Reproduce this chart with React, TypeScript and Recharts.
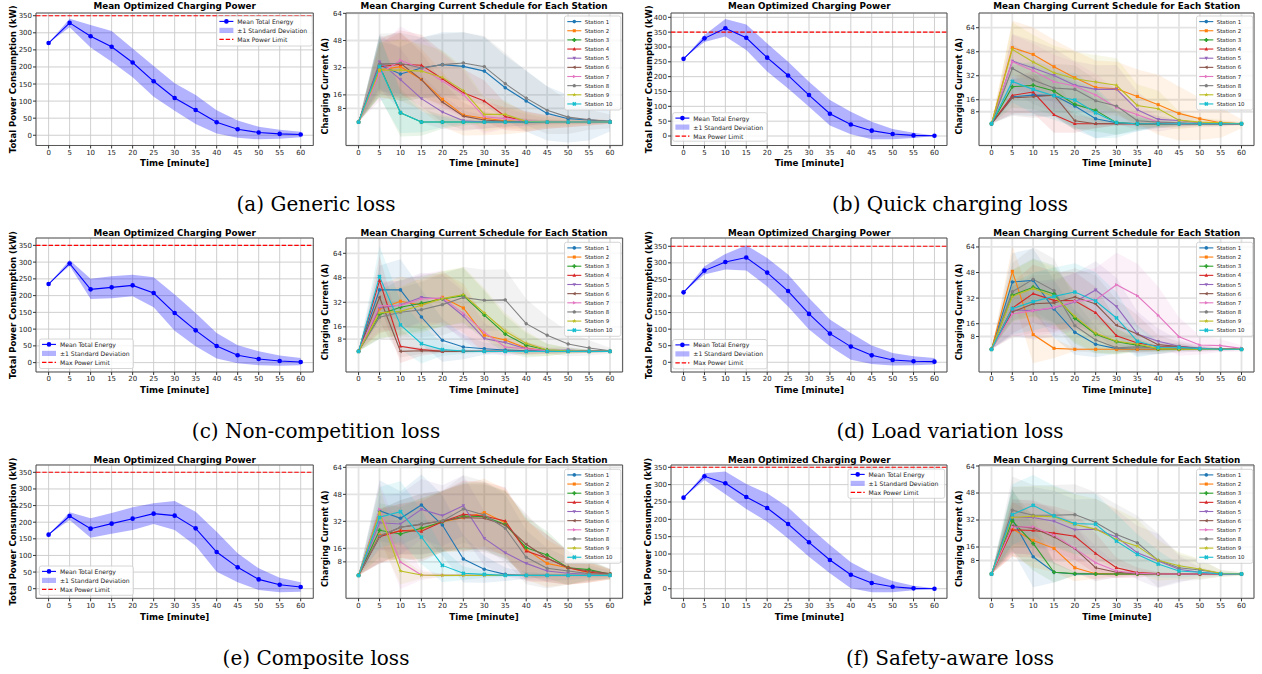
import React from "react";
import { ComposedChart, Line, Area, XAxis, YAxis, CartesianGrid, ReferenceLine, ReferenceArea } from "recharts";

// ---------------- data ----------------
const TIME = [0, 5, 10, 15, 20, 25, 30, 35, 40, 45, 50, 55, 60];
const X_TICKS = [0, 5, 10, 15, 20, 25, 30, 35, 40, 45, 50, 55, 60];
const POWER_TICKS = [0, 50, 100, 150, 200, 250, 300, 350];
const POWER_TICKS_B = [0, 50, 100, 150, 200, 250, 300, 350, 400];
const CURRENT_TICKS = [8, 16, 32, 48, 64];
const POWER_LIMIT = 350;

const STATION_NAMES = ["Station 1", "Station 2", "Station 3", "Station 4", "Station 5", "Station 6", "Station 7", "Station 8", "Station 9", "Station 10"];
const STATION_COLORS = ["#1f77b4", "#ff7f0e", "#2ca02c", "#d62728", "#9467bd", "#8c564b", "#e377c2", "#7f7f7f", "#bcbd22", "#17becf"];
const STATION_MARKERS = ["o", "s", "P", "^", "v", "<", ">", "p", "*", "X"];
const POWER_LEGEND_LABELS = ["Mean Total Energy", "±1 Standard Deviation", "Max Power Limit"];
const CAPTIONS = ["(a) Generic loss", "(b) Quick charging loss", "(c) Non-competition loss", "(d) Load variation loss", "(e) Composite loss", "(f) Safety-aware loss"];
const POWER_TITLE = "Mean Optimized Charging Power";
const CURRENT_TITLE = "Mean Charging Current Schedule for Each Station";
const X_LABEL = "Time [minute]";
const POWER_Y_LABEL = "Total Power Consumption (kW)";
const CURRENT_Y_LABEL = "Charging Current (A)";

// (a) Generic loss
const A_POWER_MEAN = [270, 329, 290, 259, 213, 158, 109, 74, 38, 17.5, 8, 4, 2];
const A_POWER_UPPER = [270, 341, 323, 305, 254, 203, 152, 118, 73, 43, 25, 16, 10];
const A_POWER_LOWER = [270, 316, 257, 215, 170, 113, 72, 33, 5, -7, -12, -10, -6];
const A_STATION_MEAN = [
  [0, 33.6, 28.3, 31.8, 33.8, 32.8, 30, 20.2, 12.4, 5.1, 2, 1.2, 0.4],
  [0, 30.6, 32.6, 25.1, 13.4, 4.1, 2.2, 0.8, 0, 0, 0, 0, 0],
  [0, 33, 5.5, 0, 0, 0, 0, 0, 0, 0, 0, 0, 0],
  [0, 32.6, 34, 33.4, 25.5, 17.3, 12.4, 3.3, 0.4, 0, 0, 0, 0],
  [0, 35.4, 25, 13.8, 5.9, 0.8, 0, 0, 0, 0, 0, 0, 0],
  [0, 34, 34.6, 25, 11.8, 3.5, 1.2, 0.4, 0, 0, 0, 0, 0],
  [0, 28.3, 36.3, 31.6, 24.2, 16.3, 3.1, 2, 0.8, 0, 0, 0, 0],
  [0, 34, 34.6, 31.8, 33.8, 34.8, 32.6, 22.6, 14.1, 6.9, 2.9, 1.4, 0.4],
  [0, 30.6, 30.6, 30, 26.3, 18.5, 4.5, 4.5, 0.4, 0, 0, 0, 0],
  [0, 32.6, 5.5, 0, 0, 0, 0, 0, 0, 0, 0, 0, 0],
];
const A_STATION_STD = [
  [0, 14, 16, 18, 19, 20, 20, 19, 18, 16, 14, 12, 6],
  [0, 16, 20, 18, 16, 12, 10, 8, 6, 4, 3, 2, 1],
  [0, 18, 14, 8, 4, 2, 1, 1, 1, 1, 0.5, 0.5, 0.5],
  [0, 16, 20, 18, 16, 14, 12, 8, 6, 4, 3, 2, 1],
  [0, 16, 18, 14, 10, 6, 4, 3, 2, 1, 1, 1, 0.5],
  [0, 16, 18, 16, 12, 8, 5, 3, 2, 1, 1, 1, 0.5],
  [0, 16, 20, 18, 16, 14, 10, 6, 4, 2, 1, 1, 0.5],
  [0, 18, 18, 18, 18, 18, 18, 18, 16, 14, 10, 6, 4],
  [0, 16, 18, 16, 16, 14, 10, 8, 5, 3, 2, 1, 0.5],
  [0, 18, 12, 6, 3, 1, 1, 1, 1, 0.5, 0.5, 0.5, 0.5],
];

// (b) Quick charging loss
const B_POWER_MEAN = [260, 329, 363, 331, 264, 204, 138, 75, 39, 18, 7, 2, 1];
const B_POWER_UPPER = [260, 340, 394, 376, 312, 250, 183, 121, 82, 48, 24, 11, 2];
const B_POWER_LOWER = [260, 317, 335, 290, 217, 160, 99, 35, 6, -11, -11, -7, 0];
const B_STATION_MEAN = [
  [0, 18, 19.1, 18.9, 11.8, 3.3, 0.7, 0, 0, 0, 0, 0, 0],
  [0, 50.7, 46.2, 38, 30.7, 24.2, 23.3, 18.2, 12.7, 6.9, 3.3, 0.7, 0],
  [0, 24.7, 25.6, 21.8, 12.9, 8.9, 0.7, 0, 0, 0, 0, 0, 0],
  [0, 18.9, 21.1, 6, 0, 0, 0, 0, 0, 0, 0, 0, 0],
  [0, 41.8, 37.1, 32.2, 25.6, 22.9, 23.1, 9.3, 2.9, 2.2, 0.7, 0, 0],
  [0, 17.3, 18, 19.1, 2, 0, 0, 0, 0, 0, 0, 0, 0],
  [0, 41.3, 35.3, 28, 25.1, 19.1, 10.9, 6, 1.1, 0, 0, 0, 0],
  [0, 36.9, 29.1, 23.8, 22.9, 15.3, 11.8, 2, 1.1, 0.7, 0, 0, 0],
  [0, 49.6, 41.1, 34, 30, 27.8, 25.6, 12.2, 10, 2.4, 1.1, 0.7, 0],
  [0, 28.2, 22.9, 18.7, 15.8, 7.3, 0.7, 0, 0, 0, 0, 0, 0],
];
const B_STATION_STD = [
  [0, 12, 14, 14, 16, 13, 8, 5, 3, 2, 1, 1, 0.5],
  [0, 18, 18, 18, 18, 18, 18, 18, 20, 18, 14, 10, 3],
  [0, 14, 16, 16, 16, 14, 8, 4, 2, 1, 1, 1, 0.5],
  [0, 12, 14, 12, 6, 3, 1, 1, 0.5, 0.5, 0.5, 0.5, 0.5],
  [0, 18, 18, 18, 16, 16, 16, 12, 8, 5, 3, 2, 1],
  [0, 12, 14, 14, 6, 3, 1, 1, 0.5, 0.5, 0.5, 0.5, 0.5],
  [0, 18, 18, 18, 16, 14, 12, 8, 4, 2, 1, 1, 0.5],
  [0, 16, 16, 16, 16, 14, 12, 6, 4, 2, 1, 1, 0.5],
  [0, 18, 18, 18, 18, 18, 18, 14, 12, 6, 3, 2, 1],
  [0, 14, 16, 16, 18, 17, 10, 5, 2, 1, 1, 1, 0.5],
];

// (c) Non-competition loss
const C_POWER_MEAN = [234.6, 296, 218.7, 224.7, 230.6, 207.8, 148, 96.4, 49.7, 21.9, 10.9, 5, 2];
const C_POWER_UPPER = [234.6, 306, 250, 257.5, 262, 254.5, 203, 148, 88.5, 51.7, 33.8, 20.9, 14];
const C_POWER_LOWER = [234.6, 289, 190, 192, 198, 165, 95.4, 48.7, 12, -2, -8, -9, -8];
const C_STATION_MEAN = [
  [0, 40.1, 40.1, 22.4, 7.2, 2.8, 1.7, 0.9, 0.4, 0, 0, 0, 0],
  [0, 27.7, 32.7, 30.3, 35.3, 28.3, 10.5, 7.4, 2.2, 0.4, 0, 0, 0],
  [0, 24, 28.8, 31.4, 34.2, 36.4, 23.7, 11.3, 3.9, 0.9, 0.4, 0, 0],
  [0, 46.2, 3.3, 1.1, 0, 0, 0, 0, 0, 0, 0, 0, 0],
  [0, 28.3, 30.3, 35.3, 34.2, 23.1, 8.3, 5.7, 1.7, 0.4, 0.9, 0, 0],
  [0, 35.3, 0, 0.4, 0, 0, 0, 0, 0, 0, 0, 0, 0],
  [0, 29.8, 30, 34.2, 34.9, 24.8, 12.4, 2.8, 1.7, 0.4, 0, 0, 0],
  [0, 22.2, 25.5, 27.2, 30.5, 35.1, 33.3, 33.6, 18.1, 10.5, 4.8, 2.2, 0.4],
  [0, 25.1, 26.1, 30.1, 34.4, 37, 25.1, 13.1, 5.2, 0.9, 0.4, 0, 0],
  [0, 48.8, 17.2, 5, 1.1, 0.2, 0, 0, 0, 0, 0, 0, 0],
];
const C_STATION_STD = [
  [0, 16, 20, 18, 14, 8, 4, 3, 2, 1, 1, 1, 0.5],
  [0, 16, 16, 16, 16, 16, 12, 8, 4, 2, 1, 1, 0.5],
  [0, 16, 18, 18, 18, 18, 16, 12, 8, 4, 2, 1, 0.5],
  [0, 16, 11, 4, 1, 1, 0.5, 0.5, 0.5, 0.5, 0.5, 0.5, 0.5],
  [0, 16, 16, 16, 16, 16, 10, 6, 4, 2, 2, 1, 0.5],
  [0, 16, 4, 2, 1, 0.5, 0.5, 0.5, 0.5, 0.5, 0.5, 0.5, 0.5],
  [0, 16, 16, 16, 18, 16, 12, 6, 4, 2, 1, 1, 0.5],
  [0, 14, 16, 18, 20, 20, 20, 20, 16, 12, 8, 5, 2],
  [0, 16, 16, 18, 18, 18, 16, 12, 8, 4, 2, 1, 0.5],
  [0, 20, 16, 13, 4, 2, 1, 0.5, 0.5, 0.5, 0.5, 0.5, 0.5],
];

// (d) Load variation loss
const D_POWER_MEAN = [211, 276.6, 302.8, 316, 270.6, 215, 146, 86.5, 47.3, 21, 7, 3, 2];
const D_POWER_UPPER = [211, 290, 327, 353, 315, 264.6, 194, 129, 88.5, 51, 28, 18, 13];
const D_POWER_LOWER = [211, 264.6, 279.7, 276.6, 229, 168, 98.6, 48.3, 8, -5, -10, -9, -7];
const D_STATION_MEAN = [
  [0, 42.1, 43.1, 25.2, 10.6, 3.1, 0.4, 0, 0, 0, 0, 0, 0],
  [0, 48.75, 9.2, 0.6, 0, 0, 0, 0, 0, 0, 0, 0, 0],
  [0, 33.75, 38.75, 34.6, 19.4, 9.4, 4.8, 2.5, 0.4, 0, 0, 0, 0],
  [0, 25.8, 34.8, 30.6, 30.4, 22.9, 8.5, 4, 1.9, 1.7, 0.4, 0, 0],
  [0, 24.6, 24.2, 25.8, 29.6, 37.1, 26.7, 9.6, 5, 1.9, 0.8, 0, 0],
  [0, 23.3, 28.5, 29, 32.7, 28.3, 15, 9.6, 2.9, 1.7, 0.4, 0, 0],
  [0, 22.1, 24.2, 26.2, 30, 30.8, 40.4, 33.5, 21.25, 7.9, 2.7, 2.3, 0.6],
  [0, 36, 43.75, 36.7, 14.8, 5.8, 1, 1.5, 0.8, 0.4, 0, 0, 0],
  [0, 33.1, 38.1, 33.1, 20.6, 10, 5, 3.3, 0.4, 0, 0, 0, 0],
  [0, 25.4, 29.8, 33.1, 35.8, 30.2, 19.6, 5, 1.25, 1.25, 0.4, 0, 0],
];
const D_STATION_STD = [
  [0, 18, 20, 18, 14, 8, 3, 1, 1, 0.5, 0.5, 0.5, 0.5],
  [0, 16, 18, 6, 1, 0.5, 0.5, 0.5, 0.5, 0.5, 0.5, 0.5, 0.5],
  [0, 16, 18, 18, 16, 12, 8, 4, 2, 1, 0.5, 0.5, 0.5],
  [0, 16, 18, 18, 18, 16, 10, 6, 3, 2, 1, 0.5, 0.5],
  [0, 16, 18, 18, 18, 18, 18, 14, 8, 4, 2, 1, 0.5],
  [0, 16, 18, 18, 18, 18, 16, 12, 6, 3, 2, 1, 0.5],
  [0, 14, 16, 16, 18, 20, 20, 20, 18, 12, 6, 4, 2],
  [0, 18, 20, 20, 16, 8, 3, 2, 1, 1, 0.5, 0.5, 0.5],
  [0, 16, 18, 18, 16, 12, 8, 4, 2, 1, 0.5, 0.5, 0.5],
  [0, 16, 18, 18, 18, 18, 16, 10, 4, 2, 1, 0.5, 0.5],
];

// (e) Composite loss
const E_POWER_MEAN = [162.5, 218.7, 180.5, 195.6, 210.6, 225.7, 219.7, 181.5, 110.3, 64.2, 28, 12, 5];
const E_POWER_UPPER = [162.5, 229.7, 211.6, 227.7, 244.7, 256.8, 263.8, 231.7, 171.5, 106.3, 61.2, 33.1, 19];
const E_POWER_LOWER = [162.5, 206.6, 153.5, 165.5, 176.5, 194.6, 176.5, 129.4, 51.2, 19, -4, -11, -9];
const E_STATION_MEAN = [
  [0, 38.3, 33.8, 41.7, 29.8, 9.7, 3.6, 0.6, 0, 0, 0, 0, 0],
  [0, 23.9, 26.3, 27.5, 31.8, 34.2, 37.2, 31.2, 15.4, 7.1, 4.5, 1.6, 0.6],
  [0, 26.7, 24.5, 27.9, 31.8, 35.2, 34.8, 30.2, 16.4, 12.1, 4.5, 3.4, 0.6],
  [0, 22.9, 26.5, 26.1, 31.8, 36.2, 35.2, 32.2, 14.4, 10.1, 4.5, 1.8, 0.6],
  [0, 31.2, 30.4, 39.1, 35.4, 41.3, 21.9, 13.4, 7.1, 2.6, 1.2, 0.6, 0],
  [0, 23.1, 28.5, 30.2, 32.4, 34.2, 33.8, 29.8, 18.4, 10.1, 4.5, 2.6, 1],
  [0, 39.1, 7.9, 0.2, 0, 0, 0, 0, 0, 0, 0, 0, 0],
  [0, 23.3, 28.5, 30.6, 32.2, 39.3, 35.8, 27.9, 10.7, 4.2, 2.6, 1, 0.6],
  [0, 37.4, 2.6, 0.2, 0, 0, 0, 0, 0, 0, 0, 0, 0],
  [0, 34.4, 37.7, 22.7, 5.9, 1.2, 0.6, 0, 0, 0, 0, 0, 0],
];
const E_STATION_STD = [
  [0, 18, 16, 18, 18, 14, 8, 4, 2, 1, 0.5, 0.5, 0.5],
  [0, 16, 16, 18, 18, 20, 20, 20, 18, 14, 10, 6, 3],
  [0, 16, 16, 18, 18, 20, 20, 20, 18, 14, 10, 6, 3],
  [0, 16, 16, 18, 18, 20, 20, 20, 18, 14, 10, 6, 3],
  [0, 16, 18, 18, 18, 18, 16, 14, 10, 6, 4, 2, 1],
  [0, 16, 16, 18, 18, 20, 20, 20, 18, 14, 10, 6, 3],
  [0, 16, 16, 3, 1, 0.5, 0.5, 0.5, 0.5, 0.5, 0.5, 0.5, 0.5],
  [0, 16, 16, 18, 18, 20, 20, 20, 16, 12, 8, 5, 2],
  [0, 16, 8, 2, 1, 0.5, 0.5, 0.5, 0.5, 0.5, 0.5, 0.5, 0.5],
  [0, 18, 18, 16, 10, 4, 2, 1, 0.5, 0.5, 0.5, 0.5, 0.5],
];

// (f) Safety-aware loss
const F_POWER_MEAN = [262.5, 324, 303.8, 264.4, 232.7, 186.5, 133.7, 82.7, 40.4, 16.3, 5.8, 1, 0];
const F_POWER_UPPER = [262.5, 332.7, 337.5, 302, 275, 234.6, 178.8, 126, 76, 44.2, 22, 8.7, 1];
const F_POWER_LOWER = [262.5, 313.5, 272, 229.8, 193.3, 145, 92.3, 44.2, 1, -10.6, -10.6, -4.8, 0];
const F_STATION_MEAN = [
  [0, 32.3, 10.2, 1, 0, 0, 0, 0, 0, 0, 0, 0, 0],
  [0, 26.6, 19.9, 15.2, 3.7, 0.2, 0, 0, 0, 0, 0, 0, 0],
  [0, 31.5, 18.1, 1, 0.2, 0, 0, 0, 0, 0, 0, 0, 0],
  [0, 26.2, 25.8, 24.2, 22.4, 12.2, 3.7, 0.8, 0.2, 0, 0, 0, 0],
  [0, 33.7, 33.5, 31.3, 26.2, 26.6, 21.9, 12.6, 7.7, 2.8, 1, 0, 0],
  [0, 28.5, 27.2, 22, 15, 3.7, 1, 0.2, 0, 0, 0, 0, 0],
  [0, 27.8, 28, 23, 15.2, 6.7, 1.8, 0.4, 0, 0, 0, 0, 0],
  [0, 37.8, 34.8, 34.8, 35.2, 30.5, 23.4, 18.5, 8.1, 3.7, 2.4, 0.4, 0],
  [0, 33.5, 34.3, 33.9, 29.3, 26.6, 20.5, 16.5, 8.1, 4.9, 3, 0.4, 0],
  [0, 35.2, 40.7, 34.4, 29.9, 29.5, 19.5, 11.6, 5.9, 1.8, 1, 0, 0],
];
const F_STATION_STD = [
  [0, 18, 18, 6, 1, 0.5, 0.5, 0.5, 0.5, 0.5, 0.5, 0.5, 0.5],
  [0, 16, 16, 14, 8, 3, 1, 0.5, 0.5, 0.5, 0.5, 0.5, 0.5],
  [0, 18, 16, 6, 1, 0.5, 0.5, 0.5, 0.5, 0.5, 0.5, 0.5, 0.5],
  [0, 16, 16, 16, 14, 12, 6, 3, 1, 0.5, 0.5, 0.5, 0.5],
  [0, 18, 18, 18, 18, 18, 16, 16, 16, 8, 3, 1, 0.5],
  [0, 16, 16, 16, 14, 8, 3, 1, 0.5, 0.5, 0.5, 0.5, 0.5],
  [0, 16, 16, 16, 14, 10, 4, 2, 0.5, 0.5, 0.5, 0.5, 0.5],
  [0, 20, 18, 18, 18, 18, 18, 16, 16, 8, 6, 2, 1],
  [0, 18, 18, 18, 18, 18, 18, 16, 12, 8, 6, 2, 1],
  [0, 18, 18, 18, 18, 18, 16, 12, 8, 4, 2, 1, 0.5],
];

// ---------------- layout ----------------
const FONT = "'DejaVu Sans', Verdana, sans-serif";
const ROWS = [
  { y0: 13, y1: 145.5, titleY: 6.2, xLabelY: 163.3, capY: 203.5 },
  { y0: 238, y1: 372, titleY: 233, xLabelY: 390.3, capY: 431 },
  { y0: 465, y1: 598.3, titleY: 459.8, xLabelY: 616.7, capY: 657.5 },
];
const COLS = [
  { px0: 36, px1: 313.3, cx0: 345.7, cx1: 622.3, capX: 316 },
  { px0: 671.3, px1: 947.3, cx0: 979.3, cx1: 1254.3, capX: 950 },
];

type PanelCfg = {
  id: string; row: number; col: number; caption: string;
  pDom: [number, number]; pTicks: number[]; pMean: number[]; pUp: number[]; pLo: number[];
  pLegend: { x: number; y: number; w: number; h: number };
  cDom: [number, number]; cMeans: number[][]; cStds: number[][]; cLegendY: number;
};

const PANELS: PanelCfg[] = [
  { id: "a", row: 0, col: 0, caption: CAPTIONS[0], pDom: [-30, 358], pTicks: POWER_TICKS, pMean: A_POWER_MEAN, pUp: A_POWER_UPPER, pLo: A_POWER_LOWER, pLegend: { x: 216.7, y: 16, w: 95.6, h: 30 }, cDom: [-13.8, 64.2], cMeans: A_STATION_MEAN, cStds: A_STATION_STD, cLegendY: 16 },
  { id: "b", row: 0, col: 1, caption: CAPTIONS[1], pDom: [-32, 414.5], pTicks: POWER_TICKS_B, pMean: B_POWER_MEAN, pUp: B_POWER_UPPER, pLo: B_POWER_LOWER, pLegend: { x: 672.7, y: 112.7, w: 94.3, h: 28.5 }, cDom: [-14.5, 73.8], cMeans: B_STATION_MEAN, cStds: B_STATION_STD, cLegendY: 16 },
  { id: "c", row: 1, col: 0, caption: CAPTIONS[2], pDom: [-28, 372], pTicks: POWER_TICKS, pMean: C_POWER_MEAN, pUp: C_POWER_UPPER, pLo: C_POWER_LOWER, pLegend: { x: 39.3, y: 339, w: 94, h: 29.5 }, cDom: [-13.5, 74], cMeans: C_STATION_MEAN, cStds: C_STATION_STD, cLegendY: 242.3 },
  { id: "d", row: 1, col: 1, caption: CAPTIONS[3], pDom: [-29.3, 375], pTicks: POWER_TICKS, pMean: D_POWER_MEAN, pUp: D_POWER_UPPER, pLo: D_POWER_LOWER, pLegend: { x: 672.7, y: 339.5, w: 94.3, h: 29.3 }, cDom: [-14.2, 69.6], cMeans: D_STATION_MEAN, cStds: D_STATION_STD, cLegendY: 242.3 },
  { id: "e", row: 2, col: 0, caption: CAPTIONS[4], pDom: [-28.9, 372], pTicks: POWER_TICKS, pMean: E_POWER_MEAN, pUp: E_POWER_UPPER, pLo: E_POWER_LOWER, pLegend: { x: 39.3, y: 566, w: 94, h: 29.3 }, cDom: [-13.6, 65.4], cMeans: E_STATION_MEAN, cStds: E_STATION_STD, cLegendY: 469.3 },
  { id: "f", row: 2, col: 1, caption: CAPTIONS[5], pDom: [-27.7, 356.6], pTicks: POWER_TICKS, pMean: F_POWER_MEAN, pUp: F_POWER_UPPER, pLo: F_POWER_LOWER, pLegend: { x: 848, y: 469, w: 96.7, h: 29.3 }, cDom: [-14.4, 64.6], cMeans: F_STATION_MEAN, cStds: F_STATION_STD, cLegendY: 469.3 },
];

const YW = 30;
const XH = 16;
const PT = 2;
const PR = 2;
const X_DOMAIN: [number, number] = [-3, 63];

// ---------------- markers ----------------
function markerEl(shape: string, cx: number, cy: number, s: number, color: string, key?: string) {
  const pts = (arr: number[][]) => arr.map((p) => `${(cx + p[0] * s).toFixed(2)},${(cy + p[1] * s).toFixed(2)}`).join(" ");
  const plus = [[-0.4, -1], [0.4, -1], [0.4, -0.4], [1, -0.4], [1, 0.4], [0.4, 0.4], [0.4, 1], [-0.4, 1], [-0.4, 0.4], [-1, 0.4], [-1, -0.4], [-0.4, -0.4]];
  switch (shape) {
    case "o":
      return <circle key={key} cx={cx} cy={cy} r={s} fill={color} />;
    case "s":
      return <rect key={key} x={cx - 0.85 * s} y={cy - 0.85 * s} width={1.7 * s} height={1.7 * s} fill={color} />;
    case "^":
      return <polygon key={key} points={pts([[0, -1.1], [1, 0.75], [-1, 0.75]])} fill={color} />;
    case "v":
      return <polygon key={key} points={pts([[0, 1.1], [1, -0.75], [-1, -0.75]])} fill={color} />;
    case "<":
      return <polygon key={key} points={pts([[-1.1, 0], [0.75, -1], [0.75, 1]])} fill={color} />;
    case ">":
      return <polygon key={key} points={pts([[1.1, 0], [-0.75, -1], [-0.75, 1]])} fill={color} />;
    case "P":
      return <polygon key={key} points={pts(plus.map((p) => [p[0] * 1.1, p[1] * 1.1]))} fill={color} />;
    case "X":
      return <polygon key={key} points={pts(plus.map((p) => [((p[0] - p[1]) / Math.SQRT2) * 1.2, ((p[0] + p[1]) / Math.SQRT2) * 1.2]))} fill={color} />;
    case "p": {
      const a: number[][] = [];
      for (let k = 0; k < 5; k++) {
        const ang = ((-90 + 72 * k) * Math.PI) / 180;
        a.push([Math.cos(ang) * 1.05, Math.sin(ang) * 1.05]);
      }
      return <polygon key={key} points={pts(a)} fill={color} />;
    }
    case "*": {
      const a: number[][] = [];
      for (let k = 0; k < 10; k++) {
        const ang = ((-90 + 36 * k) * Math.PI) / 180;
        const r = k % 2 === 0 ? 1.25 : 0.5;
        a.push([Math.cos(ang) * r, Math.sin(ang) * r]);
      }
      return <polygon key={key} points={pts(a)} fill={color} />;
    }
    default:
      return <circle key={key} cx={cx} cy={cy} r={s} fill={color} />;
  }
}

function makeDot(shape: string, color: string, s: number, prefix: string) {
  return (props: any) => {
    const { cx, cy, index } = props;
    const k = `${prefix}-${index}`;
    if (cx == null || cy == null || Number.isNaN(cx) || Number.isNaN(cy)) return <g key={k} />;
    return <g key={k}>{markerEl(shape, cx, cy, s, color)}</g>;
  };
}

const tickStyle = { fontSize: 7, fill: "#262626", fontFamily: FONT };

// ---------------- charts ----------------
function PowerChart({ p }: { p: PanelCfg }) {
  const r = ROWS[p.row];
  const c = COLS[p.col];
  const rows = TIME.map((t, i) => ({ t, mean: p.pMean[i], band: [p.pLo[i], p.pUp[i]] }));
  const w = c.px1 - c.px0 + YW + PR;
  const h = r.y1 - r.y0 + PT + XH;
  return (
    <div style={{ position: "absolute", left: c.px0 - YW, top: r.y0 - PT }}>
      <ComposedChart width={w} height={h} data={rows} margin={{ top: PT, right: PR, left: 0, bottom: 0 }}>
        <CartesianGrid stroke="#c9c9c9" strokeWidth={0.9} />
        <XAxis dataKey="t" type="number" domain={X_DOMAIN} ticks={X_TICKS} interval={0} allowDataOverflow height={XH} tick={tickStyle} tickLine={{ stroke: "#333" }} axisLine={false} tickSize={3} tickMargin={1.5} />
        <YAxis type="number" domain={p.pDom} ticks={p.pTicks} interval={0} allowDataOverflow width={YW} tick={tickStyle} tickLine={{ stroke: "#333" }} axisLine={false} tickSize={3} tickMargin={1} />
        <Area type="linear" dataKey="band" stroke="none" fill="#0000ff" fillOpacity={0.3} isAnimationActive={false} dot={false} activeDot={false} />
        <ReferenceLine y={POWER_LIMIT} stroke="#ff0000" strokeWidth={1.1} strokeDasharray="4.4 1.9" />
        <Line type="linear" dataKey="mean" stroke="#0000ff" strokeWidth={1.1} dot={makeDot("o", "#0000ff", 2.3, `pm${p.id}`)} activeDot={false} isAnimationActive={false} />
        <ReferenceArea x1={X_DOMAIN[0]} x2={X_DOMAIN[1]} y1={p.pDom[0]} y2={p.pDom[1]} fill="none" stroke="#4a4a4a" strokeWidth={0.9} />
      </ComposedChart>
    </div>
  );
}

function CurrentChart({ p }: { p: PanelCfg }) {
  const r = ROWS[p.row];
  const c = COLS[p.col];
  const rows = TIME.map((t, i) => {
    const row: any = { t };
    p.cMeans.forEach((m, k) => {
      row[`s${k}`] = m[i];
      row[`b${k}`] = [m[i] - p.cStds[k][i], m[i] + p.cStds[k][i]];
    });
    return row;
  });
  const w = c.cx1 - c.cx0 + YW + PR;
  const h = r.y1 - r.y0 + PT + XH;
  return (
    <div style={{ position: "absolute", left: c.cx0 - YW, top: r.y0 - PT }}>
      <ComposedChart width={w} height={h} data={rows} margin={{ top: PT, right: PR, left: 0, bottom: 0 }}>
        <CartesianGrid stroke="#e4e4e4" strokeWidth={1.8} />
        <XAxis dataKey="t" type="number" domain={X_DOMAIN} ticks={X_TICKS} interval={0} allowDataOverflow height={XH} tick={tickStyle} tickLine={{ stroke: "#333" }} axisLine={false} tickSize={3} tickMargin={1.5} />
        <YAxis type="number" domain={p.cDom} ticks={CURRENT_TICKS} interval={0} allowDataOverflow width={YW} tick={tickStyle} tickLine={{ stroke: "#333" }} axisLine={false} tickSize={3} tickMargin={1} />
        {STATION_NAMES.map((n, k) => (
          <Area key={`b${k}`} type="linear" dataKey={`b${k}`} stroke="none" fill={STATION_COLORS[k]} fillOpacity={0.1} isAnimationActive={false} dot={false} activeDot={false} />
        ))}
        {STATION_NAMES.map((n, k) => (
          <Line key={`s${k}`} type="linear" dataKey={`s${k}`} stroke={STATION_COLORS[k]} strokeWidth={1.1} dot={makeDot(STATION_MARKERS[k], STATION_COLORS[k], 1.8, `c${p.id}${k}`)} activeDot={false} isAnimationActive={false} />
        ))}
        <ReferenceArea x1={X_DOMAIN[0]} x2={X_DOMAIN[1]} y1={p.cDom[0]} y2={p.cDom[1]} fill="none" stroke="#4a4a4a" strokeWidth={0.9} />
      </ComposedChart>
    </div>
  );
}

// ---------------- text overlay ----------------
function PowerLegend({ lg }: { lg: { x: number; y: number; w: number; h: number } }) {
  const ys = [lg.y + 5.4, lg.y + 14.4, lg.y + 23.4];
  const hx0 = lg.x + 2.7;
  const hx1 = lg.x + 16.7;
  const tx = lg.x + 20.6;
  const ts = { fontSize: 6.1, fontFamily: FONT, fill: "#222" };
  return (
    <g>
      <rect x={lg.x} y={lg.y} width={lg.w} height={lg.h} rx={2} fill="#fff" fillOpacity={0.8} stroke="#cccccc" strokeWidth={0.8} />
      <line x1={hx0} x2={hx1} y1={ys[0]} y2={ys[0]} stroke="#0000ff" strokeWidth={1.1} />
      {markerEl("o", (hx0 + hx1) / 2, ys[0], 2.3, "#0000ff")}
      <text x={tx} y={ys[0]} dominantBaseline="central" style={ts}>{POWER_LEGEND_LABELS[0]}</text>
      <rect x={hx0} y={ys[1] - 2.6} width={hx1 - hx0} height={5.2} fill="#0000ff" fillOpacity={0.3} />
      <text x={tx} y={ys[1]} dominantBaseline="central" style={ts}>{POWER_LEGEND_LABELS[1]}</text>
      <line x1={hx0} x2={hx1} y1={ys[2]} y2={ys[2]} stroke="#ff0000" strokeWidth={1.1} strokeDasharray="4.4 1.9" />
      <text x={tx} y={ys[2]} dominantBaseline="central" style={ts}>{POWER_LEGEND_LABELS[2]}</text>
    </g>
  );
}

function StationLegend({ x, y }: { x: number; y: number }) {
  const ts = { fontSize: 5.4, fontFamily: FONT, fill: "#222" };
  return (
    <g>
      <rect x={x} y={y} width={56.3} height={94} rx={2} fill="#fff" fillOpacity={0.8} stroke="#cccccc" strokeWidth={0.8} />
      {STATION_NAMES.map((n, k) => {
        const cy = y + 5.6 + k * 9.15;
        return (
          <g key={n}>
            <line x1={x + 2.8} x2={x + 16.8} y1={cy} y2={cy} stroke={STATION_COLORS[k]} strokeWidth={1.1} />
            {markerEl(STATION_MARKERS[k], x + 9.8, cy, 1.8, STATION_COLORS[k])}
            <text x={x + 20.3} y={cy} dominantBaseline="central" style={ts}>{n}</text>
          </g>
        );
      })}
    </g>
  );
}

function PanelText({ p }: { p: PanelCfg }) {
  const r = ROWS[p.row];
  const c = COLS[p.col];
  const bold = { fontFamily: FONT, fontWeight: 700, fill: "#000" } as const;
  const pMidX = (c.px0 + c.px1) / 2;
  const cMidX = (c.cx0 + c.cx1) / 2;
  const midY = (r.y0 + r.y1) / 2;
  const pLabX = c.px0 - 22.8;
  const cLabX = c.cx0 - 20.4;
  return (
    <g>
      <text x={pMidX} y={r.titleY} textAnchor="middle" dominantBaseline="central" style={{ ...bold, fontSize: 8.8 }}>{POWER_TITLE}</text>
      <text x={cMidX} y={r.titleY} textAnchor="middle" dominantBaseline="central" style={{ ...bold, fontSize: 8.8 }}>{CURRENT_TITLE}</text>
      <text x={pMidX} y={r.xLabelY} textAnchor="middle" dominantBaseline="central" style={{ ...bold, fontSize: 8.7 }}>{X_LABEL}</text>
      <text x={cMidX} y={r.xLabelY} textAnchor="middle" dominantBaseline="central" style={{ ...bold, fontSize: 8.7 }}>{X_LABEL}</text>
      <text x={pLabX} y={midY} textAnchor="middle" dominantBaseline="central" transform={`rotate(-90 ${pLabX} ${midY})`} style={{ ...bold, fontSize: 8.5 }}>{POWER_Y_LABEL}</text>
      <text x={cLabX} y={midY + 7} textAnchor="middle" dominantBaseline="central" transform={`rotate(-90 ${cLabX} ${midY + 7})`} style={{ ...bold, fontSize: 8.2 }}>{CURRENT_Y_LABEL}</text>
      <PowerLegend lg={p.pLegend} />
      <StationLegend x={c.cx1 - 57.8} y={p.cLegendY} />
      <text x={c.capX} y={r.capY} textAnchor="middle" dominantBaseline="central" style={{ fontFamily: "'DejaVu Serif', serif", fontSize: 20, fill: "#000" }}>{p.caption}</text>
    </g>
  );
}

export default function App() {
  return (
    <div style={{ position: "absolute", left: 0, top: 0, width: 1262, height: 674, background: "#fff", overflow: "hidden" }}>
      {PANELS.map((p) => (
        <React.Fragment key={p.id}>
          <PowerChart p={p} />
          <CurrentChart p={p} />
        </React.Fragment>
      ))}
      <svg width={1262} height={674} style={{ position: "absolute", left: 0, top: 0, pointerEvents: "none" }}>
        {PANELS.map((p) => (
          <PanelText key={p.id} p={p} />
        ))}
      </svg>
    </div>
  );
}
